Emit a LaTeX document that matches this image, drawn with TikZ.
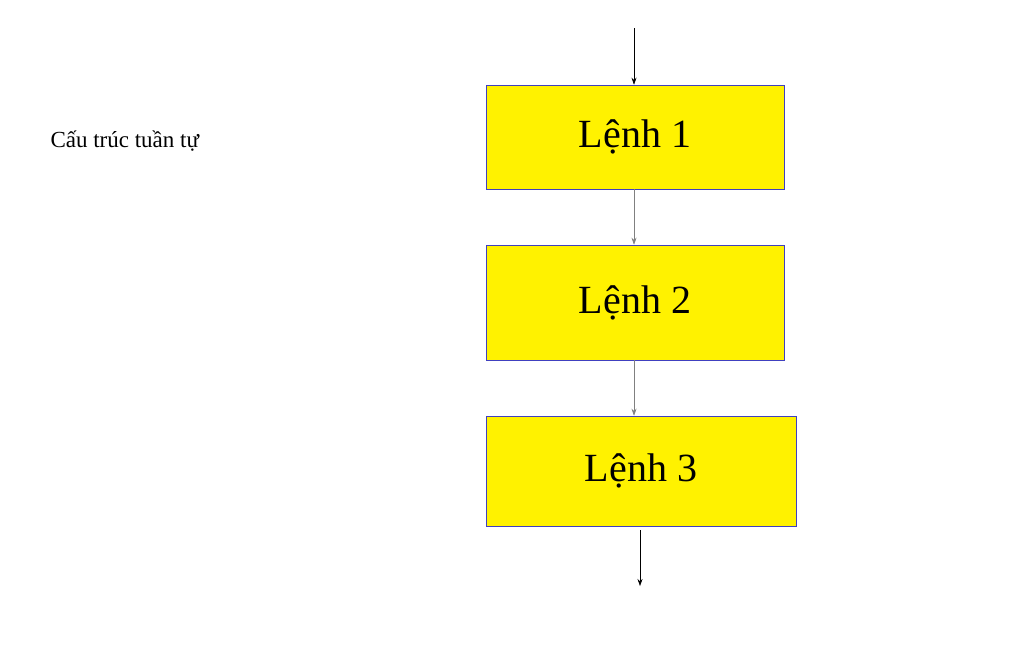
\documentclass[tikz,border=0pt]{standalone}
\usepackage{fontspec}
\setmainfont{Liberation Serif}
\usetikzlibrary{arrows.meta}
\begin{document}
\begin{tikzpicture}[x=1pt,y=-1pt,
  box/.style={draw=blue!50!gray,line width=0.6pt,fill=yellow,inner sep=0pt,font=\fontsize{40}{44}\selectfont},
  arr/.style={-{Stealth[length=7pt,width=5pt]},line width=0.6pt}]
\useasboundingbox (0,0) rectangle (1024,646);
\node[anchor=west,font=\fontsize{23}{26}\selectfont] (t) at (47,141) {Cấu trúc tuần tự};
\node[box,minimum width=298pt,minimum height=104pt] (b1) at (635,137) {Lệnh 1};
\node[box,minimum width=298pt,minimum height=115pt] (b2) at (635,302.5) {Lệnh 2};
\node[box,minimum width=310pt,minimum height=110pt] (b3) at (641,471) {Lệnh 3};
\coordinate (s) at (634,28);
\coordinate (e) at (640,586);
\coordinate (e0) at (640,530);
\draw[arr] (s) -- (b1.north -| s);
\draw[arr,draw=gray] (b1.south -| s) -- (b2.north -| s);
\draw[arr,draw=gray] (b2.south -| s) -- (b3.north -| s);
\draw[arr] (e0) -- (e);
\end{tikzpicture}
\end{document}
